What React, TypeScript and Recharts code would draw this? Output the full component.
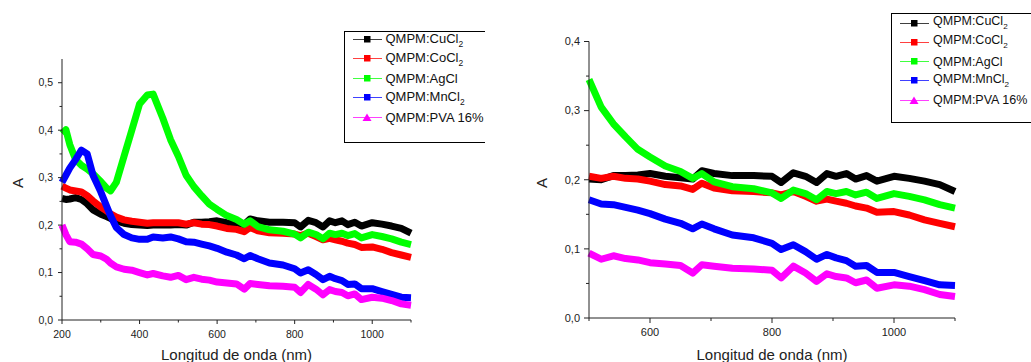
import { Label, Line, LineChart, XAxis, YAxis } from 'recharts'

// Wavelength grid (nm); both panels share it.
const wavelengths = [
  200, 210, 220, 235, 250, 265, 280, 300, 315, 325, 340, 360, 380, 400, 420, 435, 460, 480, 500, 520, 540,
  560, 580, 600, 625, 650, 670, 685, 705, 735, 770, 800, 815, 835, 855, 873, 890, 905, 922, 937, 955, 972,
  1000, 1025, 1050, 1075, 1100,
]

const cuCl2 = [
  0.256, 0.254, 0.255, 0.258, 0.254, 0.245, 0.232, 0.223, 0.218, 0.214, 0.209, 0.204, 0.201, 0.2, 0.199, 0.2,
  0.2, 0.2, 0.201, 0.2, 0.206, 0.206, 0.207, 0.209, 0.205, 0.203, 0.201, 0.213, 0.209, 0.206, 0.206, 0.205,
  0.196, 0.21, 0.205, 0.196, 0.209, 0.205, 0.209, 0.201, 0.206, 0.198, 0.205, 0.202, 0.198, 0.193, 0.183,
]

const coCl2 = [
  0.282, 0.278, 0.274, 0.272, 0.27, 0.262, 0.251, 0.238, 0.23, 0.224, 0.217, 0.211, 0.208, 0.206, 0.204, 0.205,
  0.205, 0.205, 0.205, 0.202, 0.205, 0.202, 0.201, 0.198, 0.193, 0.191, 0.186, 0.195, 0.188, 0.184, 0.183,
  0.181, 0.178, 0.183, 0.176, 0.169, 0.172, 0.169, 0.166, 0.162, 0.159, 0.153, 0.154, 0.149, 0.142, 0.137,
  0.132,
]

const agCl = [
  0.393, 0.401, 0.37, 0.338, 0.326, 0.318, 0.308, 0.292, 0.278, 0.272, 0.29, 0.345, 0.4, 0.455, 0.474, 0.476,
  0.425, 0.38, 0.345, 0.305, 0.281, 0.262, 0.244, 0.233, 0.22, 0.212, 0.202, 0.209, 0.197, 0.19, 0.187, 0.181,
  0.173, 0.185, 0.18, 0.171, 0.183, 0.18, 0.183, 0.178, 0.182, 0.173, 0.18, 0.176, 0.171, 0.164, 0.159,
]

const mnCl2 = [
  0.29, 0.305, 0.32, 0.338, 0.358, 0.35, 0.305, 0.27, 0.24, 0.22, 0.195, 0.18, 0.173, 0.17, 0.17, 0.175, 0.173,
  0.175, 0.171, 0.165, 0.164, 0.16, 0.156, 0.151, 0.143, 0.137, 0.129, 0.136, 0.129, 0.12, 0.116, 0.108, 0.099,
  0.106, 0.096, 0.085, 0.092, 0.087, 0.083, 0.075, 0.076, 0.066, 0.066, 0.06, 0.054, 0.048, 0.047,
]

const pva16 = [
  0.2, 0.18, 0.165, 0.164, 0.16, 0.15, 0.138, 0.135, 0.128, 0.12, 0.112, 0.107, 0.105, 0.1, 0.095, 0.098, 0.093,
  0.09, 0.094, 0.085, 0.09, 0.086, 0.084, 0.08, 0.078, 0.076, 0.065, 0.077, 0.075, 0.072, 0.071, 0.069, 0.058,
  0.075, 0.065, 0.053, 0.064, 0.06, 0.058, 0.051, 0.055, 0.043, 0.048, 0.046, 0.041, 0.034, 0.031,
]

// Tick positions (minor ticks carry no label).
const xTicksLeft = [200, 300, 400, 500, 600, 700, 800, 900, 1000, 1100]
const xTicksRight = [500, 600, 700, 800, 900, 1000, 1100]
const yTicksLeft = [0, 0.05, 0.1, 0.15, 0.2, 0.25, 0.3, 0.35, 0.4, 0.45, 0.5]
const yTicksRight = [0, 0.05, 0.1, 0.15, 0.2, 0.25, 0.3, 0.35, 0.4]

const data = wavelengths.map((nm, i) => ({
  nm,
  cu: cuCl2[i],
  co: coCl2[i],
  ag: agCl[i],
  mn: mnCl2[i],
  pva: pva16[i],
}))
const zoomed = data.filter((d) => d.nm >= 500)

const SERIES = [
  { key: 'cu', label: 'QMPM:CuCl', sub: '2', color: '#000000', marker: 'square' },
  { key: 'co', label: 'QMPM:CoCl', sub: '2', color: '#ff0000', marker: 'square' },
  { key: 'ag', label: 'QMPM:AgCl', sub: '', color: '#00ff00', marker: 'square' },
  { key: 'mn', label: 'QMPM:MnCl', sub: '2', color: '#0000ff', marker: 'square' },
  { key: 'pva', label: 'QMPM:PVA 16%', sub: '', color: '#ff00ff', marker: 'triangle' },
]

const FONT = '"Liberation Sans", Arial, Helvetica, sans-serif'
const INK = '#222'

const comma = (v: number) => v.toFixed(1).replace('.', ',')

function makeYTick(fs: number, majorLen: number, minorLen: number) {
  return (props: any) => {
    const { x, y, payload } = props
    const v = payload.value as number
    const major = Math.round(v * 100) % 10 === 0
    return (
      <g>
        <line x1={x - (major ? majorLen : minorLen)} x2={x} y1={y} y2={y} stroke={INK} />
        {major && (
          <text x={x - 9} y={y} dy="0.35em" textAnchor="end" fontSize={fs} fontFamily={FONT} fill={INK}>
            {comma(v)}
          </text>
        )}
      </g>
    )
  }
}

function makeXTick(fs: number, majorLen: number, minorLen: number) {
  return (props: any) => {
    const { x, y, payload } = props
    const v = payload.value as number
    const major = v % 200 === 0
    return (
      <g>
        <line x1={x} x2={x} y1={y} y2={y + (major ? majorLen : minorLen)} stroke={INK} />
        {major && (
          <text x={x} y={y + 14} dy="0.35em" textAnchor="middle" fontSize={fs} fontFamily={FONT} fill={INK}>
            {v}
          </text>
        )}
      </g>
    )
  }
}

function xTitle(props: any) {
  const { x, width } = props.viewBox
  return (
    <text x={x + width / 2} y={360} textAnchor="middle" fontSize={15} fontFamily={FONT} fill={INK}>
      Longitud de onda (nm)
    </text>
  )
}

function yTitle(cx: number) {
  return () => (
    <text
      x={cx}
      y={183}
      transform={`rotate(-90, ${cx}, 183)`}
      textAnchor="middle"
      dominantBaseline="central"
      fontSize={15}
      fontFamily={FONT}
      fill={INK}
    >
      A
    </text>
  )
}

function Marker({ type, color }: { type: string; color: string }) {
  if (type === 'triangle') return <polygon points="15,1.5 19.5,9 10.5,9" fill={color} />
  return <rect x={12} y={2} width={6.5} height={6.5} fill={color} />
}

/** Legend box drawn as in the original (clipped on the right edge). */
function LegendBox({ left, top, height, fs, step, first }: any) {
  return (
    <div
      style={{
        position: 'absolute',
        left,
        top,
        width: 1031 - left > 150 ? 140 : 1031 - left,
        height,
        border: '1px solid #000',
        borderRight: 'none',
        overflow: 'hidden',
        background: '#fff',
        fontFamily: FONT,
        fontSize: fs,
        color: '#111',
        whiteSpace: 'nowrap',
      }}
    >
      {SERIES.map((s, i) => (
        <div key={s.key} style={{ position: 'absolute', left: 7, top: first + i * step - 6, height: 12 }}>
          <svg width={32} height={11} style={{ position: 'absolute', left: 0, top: 0.5 }}>
            <line x1={1} x2={30} y1={5.5} y2={5.5} stroke={s.color} strokeOpacity={0.75} />
            <Marker type={s.marker} color={s.color} />
          </svg>
          <span style={{ position: 'absolute', left: 34, top: 6, transform: 'translateY(-50%)', lineHeight: 1 }}>
            {s.label}
            {s.sub && <sub style={{ fontSize: fs * 0.65, verticalAlign: -4 }}>{s.sub}</sub>}
          </span>
        </div>
      ))}
    </div>
  )
}

function lines() {
  return SERIES.map((s) => (
    <Line
      key={s.key}
      type="linear"
      dataKey={s.key}
      stroke={s.color}
      strokeWidth={7}
      strokeLinejoin="round"
      dot={false}
      activeDot={false}
      isAnimationActive={false}
    />
  ))
}

export default function App() {
  return (
    <div style={{ position: 'absolute', left: 0, top: 0, width: 1031, height: 362, background: '#fff', overflow: 'hidden' }}>
      <div style={{ position: 'absolute', left: 0, top: 0 }}>
        <LineChart width={420} height={362} data={data} margin={{ top: 59, right: 9, bottom: 0, left: 0 }}>
          <XAxis
            dataKey="nm"
            type="number"
            domain={[200, 1100]}
            ticks={xTicksLeft}
            interval={0}
            height={42}
            tickSize={0}
            tickMargin={0}
            tickLine={false}
            axisLine={{ stroke: INK }}
            tick={makeXTick(10.5, 4, 2.5)}
          >
            <Label content={xTitle} />
          </XAxis>
          <YAxis
            type="number"
            domain={[0, 0.55]}
            ticks={yTicksLeft}
            interval={0}
            width={62}
            tickSize={0}
            tickMargin={0}
            tickLine={false}
            axisLine={{ stroke: INK }}
            tick={makeYTick(10.5, 4, 2.5)}
          >
            <Label content={yTitle(17.5)} />
          </YAxis>
          {lines()}
        </LineChart>
      </div>

      <div style={{ position: 'absolute', left: 500, top: 0 }}>
        <LineChart width={465} height={362} data={zoomed} margin={{ top: 41.5, right: 10, bottom: 0, left: 0 }}>
          <XAxis
            dataKey="nm"
            type="number"
            domain={[500, 1100]}
            ticks={xTicksRight}
            interval={0}
            height={44}
            tickSize={0}
            tickMargin={0}
            tickLine={false}
            axisLine={{ stroke: INK }}
            tick={makeXTick(11, 5, 3)}
          >
            <Label content={xTitle} />
          </XAxis>
          <YAxis
            type="number"
            domain={[0, 0.4]}
            ticks={yTicksRight}
            interval={0}
            width={89}
            tickSize={0}
            tickMargin={0}
            tickLine={false}
            axisLine={{ stroke: INK }}
            tick={makeYTick(11, 5, 3)}
          >
            <Label content={yTitle(41)} />
          </YAxis>
          {lines()}
        </LineChart>
      </div>

      <LegendBox left={343.5} top={31} height={110} fs={13} step={19.4} first={7.5} />
      <LegendBox left={891} top={12.5} height={108} fs={12.5} step={19.3} first={9.5} />
    </div>
  )
}
